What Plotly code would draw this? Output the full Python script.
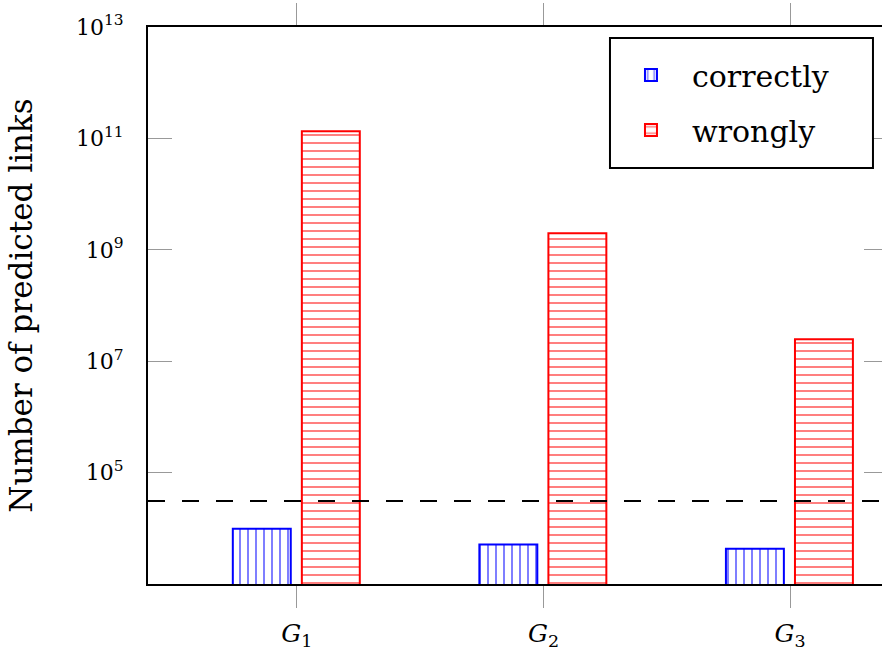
import plotly.graph_objects as go

categories = ["G1", "G2", "G3"]
cat_labels = ["<i>G</i><sub>1</sub>", "<i>G</i><sub>2</sub>", "<i>G</i><sub>3</sub>"]
correctly = [9.8e3, 5.1e3, 4.3e3]
wrongly = [1.35e11, 1.99e9, 2.48e7]
threshold = 3.1e4
ytick_vals = [1e5, 1e7, 1e9, 1e11, 1e13]
ytick_text = ["10<sup>5</sup>", "10<sup>7</sup>", "10<sup>9</sup>", "10<sup>11</sup>", "10<sup>13</sup>"]

xpos = list(range(len(categories)))
xr = [-0.604, 2.373]
FONT = "DejaVu Serif"

fig = go.Figure()
fig.add_trace(go.Bar(
    x=xpos, y=correctly, name="correctly", width=0.235, offset=-0.26,
    marker=dict(color="white", line=dict(color="#0000ff", width=2),
                pattern=dict(shape="|", fgcolor="#0000ff", bgcolor="white", size=8, solidity=0.25)),
    legendgroup="a",
))
fig.add_trace(go.Bar(
    x=xpos, y=wrongly, name="wrongly", width=0.235, offset=0.02,
    marker=dict(color="white", line=dict(color="#ff0000", width=2),
                pattern=dict(shape="-", fgcolor="#ff0000", bgcolor="white", size=8, solidity=0.25)),
    legendgroup="b",
))
fig.add_trace(go.Scatter(
    x=xr, y=[threshold, threshold], mode="lines", yaxis="y2",
    line=dict(color="black", width=2, dash="17px,17px"), showlegend=False, hoverinfo="skip",
))

# legend frame
fig.add_shape(type="rect", xref="paper", yref="paper", x0=0.6294, x1=0.9877, y0=0.7467, y1=0.9802,
              line=dict(color="black", width=2), fillcolor="white", layer="above")

fig.update_layout(
    width=882, height=657,
    margin=dict(l=148, r=0, t=27, b=73),
    paper_bgcolor="white", plot_bgcolor="white",
    font=dict(family=FONT, color="black"),
    barmode="group",
    showlegend=True,
    legend=dict(x=0.6294, xanchor="left", y=0.9605, yanchor="top",
                borderwidth=0, bgcolor="rgba(0,0,0,0)",
                font=dict(size=30, family=FONT), tracegroupgap=13,
                itemwidth=72),
    xaxis=dict(range=xr, tickvals=xpos, ticktext=cat_labels,
               ticks="outside", ticklen=22, tickcolor="#999999", tickwidth=1,
               showline=True, linecolor="black", linewidth=2, mirror="ticks",
               showgrid=False, zeroline=False, tickfont=dict(size=25, family=FONT),
               ticklabelstandoff=4),
    yaxis=dict(type="log", range=[3, 13], tickvals=ytick_vals, ticktext=ytick_text,
               ticks="inside", ticklen=24, tickcolor="#999999", tickwidth=1,
               showline=True, linecolor="black", linewidth=2,
               showgrid=False, zeroline=False, tickfont=dict(size=22, family=FONT),
               ticklabelstandoff=18,
               title=dict(text="Number of predicted links", font=dict(size=31, family=FONT), standoff=34)),
    yaxis2=dict(type="log", range=[3, 13], overlaying="y", side="right",
                tickvals=ytick_vals, ticks="inside", ticklen=18, tickcolor="#999999", tickwidth=1,
                showticklabels=False, showline=False, showgrid=False, zeroline=False),
)

fig.write_html("out.html")
